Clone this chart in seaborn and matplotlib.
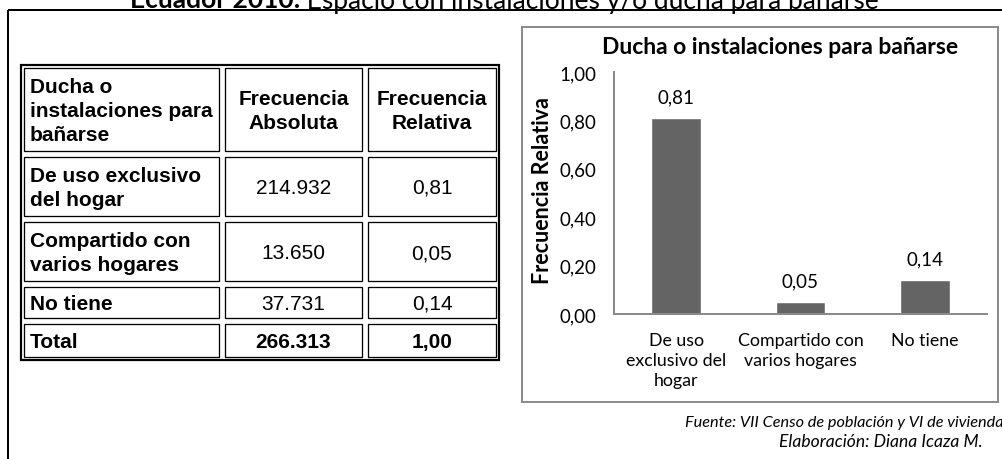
import matplotlib
matplotlib.use("Agg")
import matplotlib.pyplot as plt
import seaborn as sns
import pandas as pd
from matplotlib.patches import Rectangle
from matplotlib.ticker import FixedLocator, FuncFormatter

# --- data ---------------------------------------------------------------
categorias = ["De uso exclusivo del hogar", "Compartido con varios hogares", "No tiene"]
etiquetas_eje = ["De uso\nexclusivo del\nhogar", "Compartido con\nvarios hogares", "No tiene"]
etiquetas_tabla = ["De uso exclusivo\ndel hogar", "Compartido con\nvarios hogares", "No tiene"]
frec_absoluta = [214932, 13650, 37731]
frec_relativa = [0.81, 0.05, 0.14]
total_absoluta = 266313
total_relativa = 1.00
encabezados = ["Ducha o\ninstalaciones para\nbañarse", "Frecuencia\nAbsoluta", "Frecuencia\nRelativa"]
ticks_y = [0.0, 0.2, 0.4, 0.6, 0.8, 1.0]

titulo_bold = "Ecuador 2010:"
titulo_resto = " Espacio con instalaciones y/o ducha para bañarse"
titulo_grafico = "Ducha o instalaciones para bañarse"
eje_y = "Frecuencia Relativa"
fuente = "Fuente: VII Censo de población y VI de vivienda"
elaboracion = "Elaboración: Diana Icaza M."


def miles(v):
    return f"{v:,}".replace(",", ".")


def decimal(v):
    return f"{v:.2f}".replace(".", ",")


# --- figure in pixel space ------------------------------------------------
W, H = 1003, 460
PX = 0.72  # points per pixel at 100 dpi
sns.set_theme(style="white")
plt.rcParams["font.family"] = ["Lato", "DejaVu Sans"]

fig = plt.figure(figsize=(W / 100, H / 100), dpi=100)
bg = fig.add_axes([0, 0, 1, 1])
bg.set_xlim(0, W)
bg.set_ylim(H, 0)
bg.axis("off")

# page title, running past the top edge
t1 = bg.text(130, 8.5, titulo_bold, fontsize=19, fontweight="bold",
             ha="left", va="baseline", color="black")
fig.canvas.draw()
x_end = bg.transData.inverted().transform((t1.get_window_extent().x1, 0))[0]
bg.text(x_end, 8.5, titulo_resto, fontsize=19, ha="left", va="baseline",
        color="black")

# outer frame (left and top edges)
bg.plot([8, 8], [11, H + 5], color="black", lw=2 * PX, solid_capstyle="butt")
bg.plot([8, W + 5], [11, 11], color="black", lw=2 * PX, solid_capstyle="butt")

# --- table ----------------------------------------------------------------
col_x = [21, 222, 365, 499]
row_y = [66, 155, 220, 285, 322, 361]
bg.add_patch(Rectangle((col_x[0], row_y[0]), col_x[-1] - col_x[0], row_y[-1] - row_y[0],
                       fill=False, ec="black", lw=2.2 * PX))
inset = 3.0
for i in range(len(row_y) - 1):
    for j in range(len(col_x) - 1):
        x0, x1 = col_x[j], col_x[j + 1]
        y0, y1 = row_y[i], row_y[i + 1]
        bg.add_patch(Rectangle((x0 + inset, y0 + inset), x1 - x0 - 2 * inset,
                               y1 - y0 - 2 * inset, fill=False, ec="black",
                               lw=1.3 * PX))

tabla_font = ["Liberation Sans", "DejaVu Sans"]
fs_tab = 15.0
ls_tab = 1.32
filas = [encabezados]
for k in range(len(categorias)):
    filas.append([etiquetas_tabla[k], miles(frec_absoluta[k]), decimal(frec_relativa[k])])
filas.append(["Total", miles(total_absoluta), decimal(total_relativa)])

for i, fila in enumerate(filas):
    yc = (row_y[i] + row_y[i + 1]) / 2 + 1
    for j, txt in enumerate(fila):
        negrita = (j == 0) or (i == 0) or (i == len(filas) - 1)
        if j == 0:
            bg.text(col_x[0] + 9, yc, txt, fontsize=fs_tab, family=tabla_font,
                    fontweight="bold" if negrita else "normal",
                    ha="left", va="center", linespacing=ls_tab, color="black")
        else:
            xc = (col_x[j] + col_x[j + 1]) / 2
            bg.text(xc, yc, txt, fontsize=fs_tab, family=tabla_font,
                    fontweight="bold" if negrita else "normal",
                    ha="center", va="center", linespacing=ls_tab,
                    multialignment="center", color="black")

# --- chart box --------------------------------------------------------------
bg.add_patch(Rectangle((522, 28), 998 - 522, 403 - 28, fill=False,
                       ec="#8c8c8c", lw=2 * PX))
bg.text(780, 48, titulo_grafico, fontsize=16.5, fontweight="bold",
        ha="center", va="center", color="black")

# --- bar chart --------------------------------------------------------------
df = pd.DataFrame({"categoria": categorias, "frecuencia": frec_relativa})
ax_l, ax_r, ax_t, ax_b = 614, 987, 73, 315
ax = fig.add_axes([ax_l / W, (H - ax_b) / H, (ax_r - ax_l) / W, (ax_b - ax_t) / H])
sns.barplot(data=df, x="categoria", y="frecuencia", color="#646464",
            saturation=1, width=0.4, ax=ax)
ax.set_xlim(-0.5, len(categorias) - 0.5)
ax.set_ylim(0, 1.0)
ax.patch.set_visible(False)
ax.yaxis.set_major_locator(FixedLocator(ticks_y))
ax.yaxis.set_major_formatter(FuncFormatter(lambda v, p: decimal(v)))
ax.set_xticks(range(len(categorias)))
ax.set_xticklabels(etiquetas_eje, linespacing=1.3)
ax.tick_params(axis="both", length=0, colors="black")
ax.tick_params(axis="x", labelsize=12.8, pad=13)
ax.tick_params(axis="y", labelsize=13.5, pad=13)
for side in ["top", "right"]:
    ax.spines[side].set_visible(False)
for side in ["left", "bottom"]:
    ax.spines[side].set_color("#8a8a8a")
    ax.spines[side].set_linewidth(2 * PX)
ax.set_xlabel("")
ax.set_ylabel(eje_y, fontsize=15.5, fontweight="bold", color="black")
# label anchor sits on the right side of the rotated text
ax.yaxis.set_label_coords((553 - ax_l) / (ax_r - ax_l), (ax_b - 191) / (ax_b - ax_t))

for cont in ax.containers:
    etiquetas = [decimal(v) for v in cont.datavalues]
    ax.bar_label(cont, labels=etiquetas, padding=9, fontsize=13.5, color="black")

# --- footnotes --------------------------------------------------------------
bg.text(685, 423, fuente, fontsize=11.7, style="italic", ha="left", va="center",
        color="black")
bg.text(779, 442, elaboracion, fontsize=12.6, style="italic", ha="left", va="center",
        color="black")

fig.savefig("out.png", dpi=100)
